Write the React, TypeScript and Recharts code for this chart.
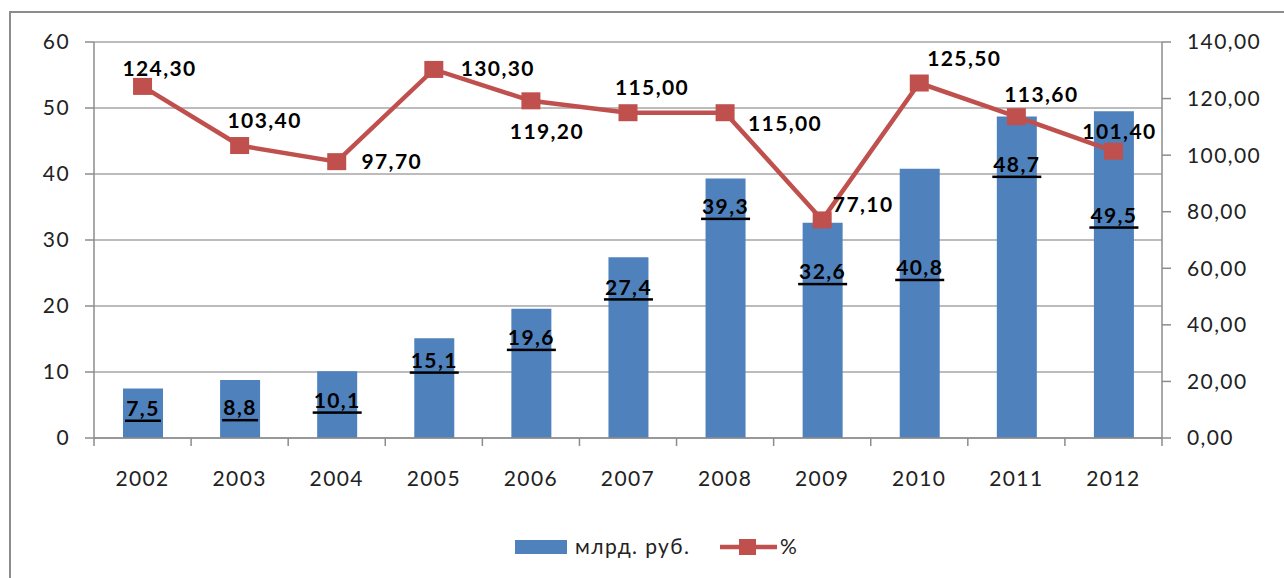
import React from 'react';
import { ComposedChart, Bar, Line, XAxis, YAxis, CartesianGrid, Legend, LabelList } from 'recharts';

const years = ['2002', '2003', '2004', '2005', '2006', '2007', '2008', '2009', '2010', '2011', '2012'];
const volumes = [7.5, 8.8, 10.1, 15.1, 19.6, 27.4, 39.3, 32.6, 40.8, 48.7, 49.5];
const growth = [124.3, 103.4, 97.7, 130.3, 119.2, 115.0, 115.0, 77.1, 125.5, 113.6, 101.4];
const leftTicks = [0, 10, 20, 30, 40, 50, 60];
const rightTicks = [0, 20, 40, 60, 80, 100, 120, 140];
const seriesNames = ['млрд. руб.', '%'];

// layout constants (label placement as in the reference)
const barLabelDy = [20, 28, 29, 22, 29, 30, 28, 49, 99, 48, 104];
const lineLabelOffsets: [number, number][] = [
  [17, -18], [25, -25], [55, 0], [64, -1], [16, 31], [24, -25],
  [60, 11], [41, -15], [45, -25], [25, -22], [6, -20],
];

const W = 1284;
const H = 578;
const MARGIN = { top: 42, right: 12, bottom: 90, left: 34 };
const LEFT_AXIS_W = 60;
const RIGHT_AXIS_W = 110;
const X_AXIS_H = 50;
const PLOT_LEFT = MARGIN.left + LEFT_AXIS_W;
const PLOT_RIGHT = W - MARGIN.right - RIGHT_AXIS_W;
const PLOT_BOTTOM = H - MARGIN.bottom - X_AXIS_H;
const BAND = (PLOT_RIGHT - PLOT_LEFT) / years.length;

const BLUE = '#4F81BD';
const RED = '#C0504D';
const GRID = '#a6a6a6';
const AXIS = '#8c8c8c';
const FONT = "Lato, 'Open Sans', 'Noto Sans', sans-serif";
const FS = 21;
const LS = 1.4;

const data = years.map((y, i) => ({ year: y, vol: volumes[i], pct: growth[i] }));

const fmt1 = (v: number) => v.toFixed(1).replace('.', ',');
const fmt2 = (v: number) => v.toFixed(2).replace('.', ',');

const XTick = (props: any) => {
  const { x, payload, index } = props;
  const left = x - BAND / 2;
  return (
    <g>
      <line x1={left} x2={left} y1={PLOT_BOTTOM} y2={PLOT_BOTTOM + 8} stroke={AXIS} strokeWidth={1.5} />
      {index === years.length - 1 && (
        <line x1={x + BAND / 2} x2={x + BAND / 2} y1={PLOT_BOTTOM} y2={PLOT_BOTTOM + 8} stroke={AXIS} strokeWidth={1.5} />
      )}
      <text x={x} y={PLOT_BOTTOM + 48} textAnchor="middle" fill="#222" fontFamily={FONT} fontSize={FS} style={{ letterSpacing: LS }}>
        {payload.value}
      </text>
    </g>
  );
};

const BarLabel = (props: any) => {
  const { x, y, width, value, index } = props;
  const cx = x + width / 2;
  const cy = y + barLabelDy[index];
  const s = fmt1(value);
  const digits = s.replace(',', '').length;
  const uw = digits * 13 + 10;
  return (
    <g>
      <text x={cx} y={cy + 7.5} textAnchor="middle" fill="#000" fontFamily={FONT} fontWeight={700} fontSize={FS} style={{ letterSpacing: LS }}>
        {s}
      </text>
      <rect x={cx - uw / 2} y={cy + 11} width={uw} height={2.5} fill="#000" />
    </g>
  );
};

const LineLabel = (props: any) => {
  const { x, y, value, index } = props;
  const [dx, dy] = lineLabelOffsets[index];
  return (
    <text x={x + dx} y={y + dy + 7.5} textAnchor="middle" fill="#000" fontFamily={FONT} fontWeight={700} fontSize={FS} style={{ letterSpacing: LS }}>
      {fmt2(value)}
    </text>
  );
};

const SquareDot = (props: any) => {
  const { cx, cy } = props;
  if (cx == null || cy == null) return null;
  return <rect x={cx - 9.5} y={cy - 8.5} width={19} height={17} fill={RED} />;
};

const LegendContent = () => (
  <svg width={W} height={30}>
    <rect x={515} y={8} width={52} height={14} fill={BLUE} />
    <text x={575} y={22} fill="#222" fontFamily={FONT} fontSize={FS} style={{ letterSpacing: LS }}>{seriesNames[0]}</text>
    <line x1={720} x2={777} y1={15} y2={15} stroke={RED} strokeWidth={4.5} />
    <rect x={739} y={7} width={17} height={16} fill={RED} />
    <text x={780} y={22} fill="#222" fontFamily={FONT} fontSize={FS} style={{ letterSpacing: LS }}>{seriesNames[1]}</text>
  </svg>
);

export default function App() {
  return (
    <div style={{ position: 'relative', width: W, height: H, overflow: 'hidden', background: '#fff' }}>
      <style>{`body{margin:0}`}</style>
      <div style={{ position: 'absolute', left: 9, top: 11, width: W + 20, height: H + 20, borderLeft: `2.5px solid ${AXIS}`, borderTop: `2.5px solid ${AXIS}` }} />
      <div style={{ position: 'absolute', left: 0, top: 0 }}>
        <ComposedChart width={W} height={H} data={data} margin={MARGIN} barSize={40}>
          <CartesianGrid yAxisId="left" vertical={false} stroke={GRID} strokeWidth={1.5} />
          <XAxis
            dataKey="year"
            height={X_AXIS_H}
            axisLine={{ stroke: AXIS, strokeWidth: 1.5 }}
            tickLine={false}
            tick={<XTick />}
            interval={0}
          />
          <YAxis
            yAxisId="left"
            orientation="left"
            width={LEFT_AXIS_W}
            domain={[0, 60]}
            ticks={leftTicks}
            axisLine={{ stroke: AXIS, strokeWidth: 1.5 }}
            tickLine={{ stroke: AXIS, strokeWidth: 1.5 }}
            tickSize={9}
            tickMargin={15}
            tick={{ fill: '#222', fontFamily: FONT, fontSize: FS, style: { letterSpacing: LS } }}
          />
          <YAxis
            yAxisId="right"
            orientation="right"
            width={RIGHT_AXIS_W}
            domain={[0, 140]}
            ticks={rightTicks}
            tickFormatter={fmt2}
            axisLine={{ stroke: AXIS, strokeWidth: 1.5 }}
            tickLine={{ stroke: AXIS, strokeWidth: 1.5 }}
            tickSize={9}
            tickMargin={16}
            tick={{ fill: '#222', fontFamily: FONT, fontSize: FS, style: { letterSpacing: LS } }}
          />
          <Legend
            layout="horizontal"
            verticalAlign="middle"
            align="center"
            content={<LegendContent />}
            wrapperStyle={{ position: 'absolute', left: 0, top: 532, width: W, height: 30 }}
          />
          <Bar yAxisId="left" dataKey="vol" name={seriesNames[0]} fill={BLUE} isAnimationActive={false}>
            <LabelList dataKey="vol" content={<BarLabel />} />
          </Bar>
          <Line
            yAxisId="right"
            dataKey="pct"
            name={seriesNames[1]}
            stroke={RED}
            strokeWidth={4.5}
            dot={<SquareDot />}
            activeDot={false}
            isAnimationActive={false}
          >
            <LabelList dataKey="pct" content={<LineLabel />} />
          </Line>
        </ComposedChart>
      </div>
    </div>
  );
}
